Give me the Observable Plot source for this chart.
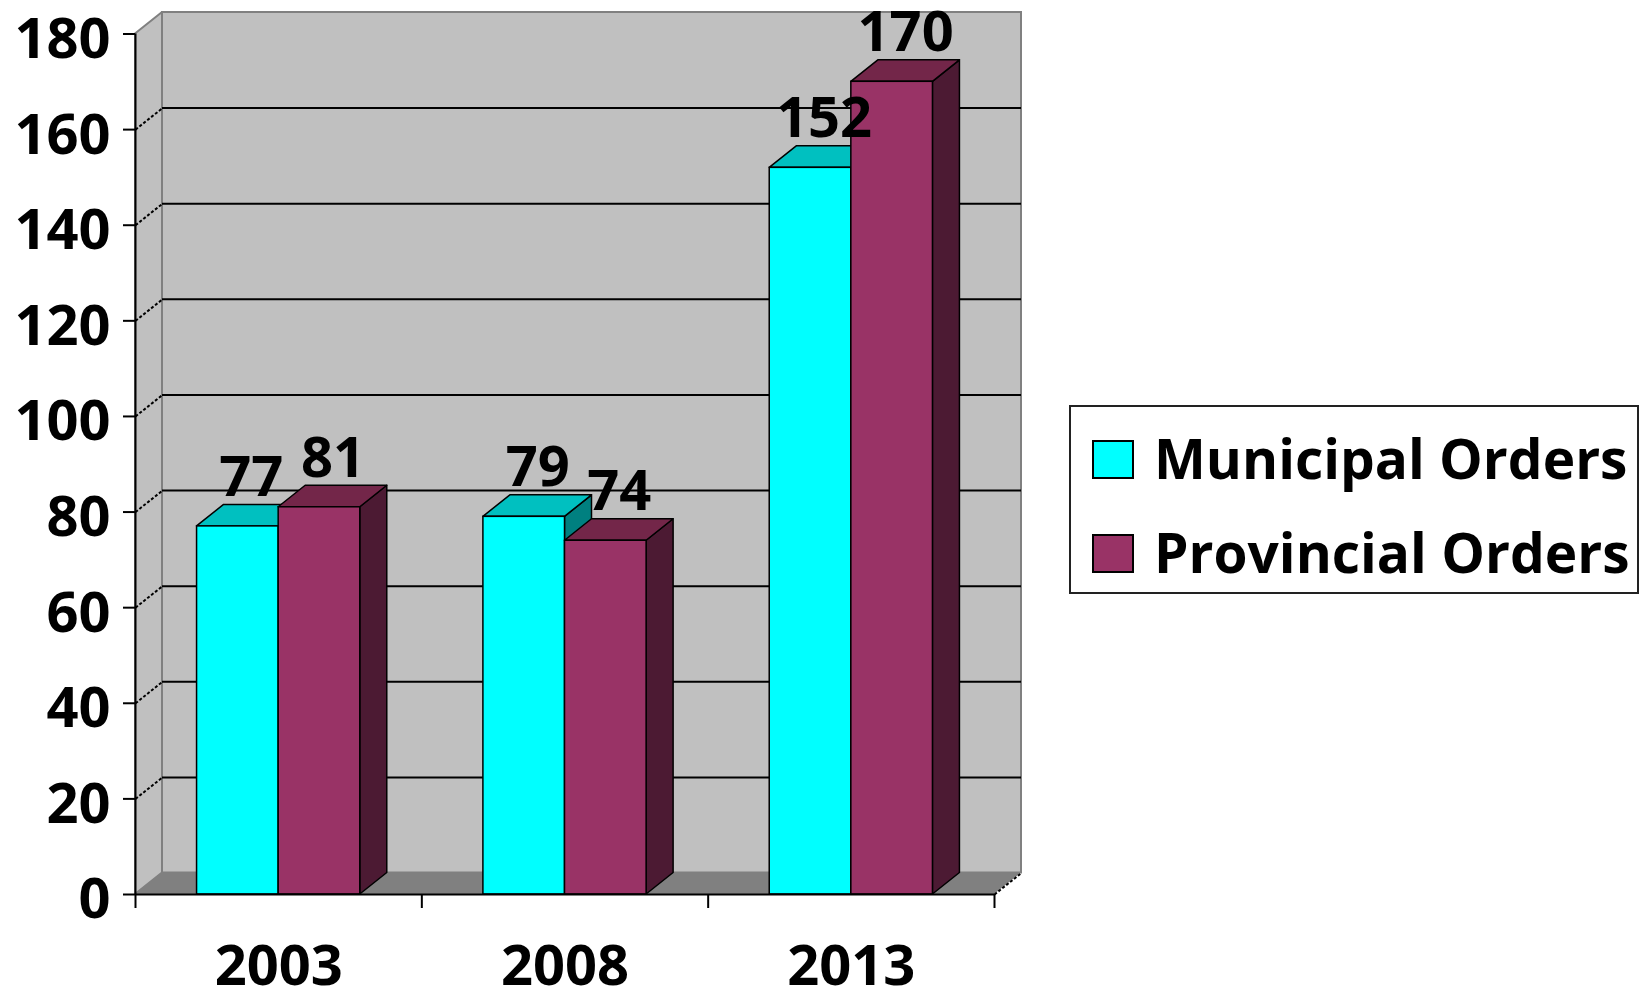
<!DOCTYPE html>
<html><head><meta charset="utf-8">
<script src="https://cdn.jsdelivr.net/npm/d3@7"></script>
<script src="https://cdn.jsdelivr.net/npm/@observablehq/plot@0.6"></script>
<style>
body{margin:0;background:#fff;font-family:"Open Sans",sans-serif;}
#wrap{position:relative;width:1641px;height:993px;overflow:hidden;}
#legend{position:absolute;left:1069px;top:405px;width:566px;height:185px;border:2px solid #222;background:#fff;}
.sw{position:absolute;left:21px;width:38px;height:35px;border:2px solid #000;}
.lt{position:absolute;left:83px;font-size:55px;font-weight:700;line-height:55px;white-space:nowrap;color:#000;}
</style></head>
<body><div id="wrap"><div id="chart"></div><div id="legend"></div></div>
<script>
// ---- data ----
const years = ["2003", "2008", "2013"];
const seriesNames = ["Municipal Orders", "Provincial Orders"];
const municipal = [77, 79, 152];
const provincial = [81, 74, 170];
const yTicks = [0, 20, 40, 60, 80, 100, 120, 140, 160, 180];

// ---- styles ----
const faces = [
  {front: "#00ffff", top: "#00c0c0", side: "#008080"},
  {front: "#993366", top: "#732649", side: "#4c1a33"}
];
const font = {fontFamily: "Open Sans", fontWeight: 700, fontSize: 56, fill: "#000"};

// ---- layout ----
const W = 1641, H = 993;
const x0 = 135, x3 = 994, yBase = 894, yTop = 33.5;
const pxX = (x3 - x0) / years.length, pxY = (yBase - yTop) / 180;
const dX = 27 / pxX, dY = 21.5 / pxY;           // 3D depth in data units
const barStart = 0.215, barW = 0.285;
const n = years.length;

const bars = [];
years.forEach((yr, i) => {
  [municipal[i], provincial[i]].forEach((v, s) => {
    const L = i + barStart + s * barW, R = L + barW;
    bars.push({id: yr + "-" + s, s, v, L, R});
  });
});
const sidePts = b => [
  {id: b.id, x: b.R, y1: 0, y2: b.v},
  {id: b.id, x: b.R + dX, y1: dY, y2: b.v + dY}
];
const topPts = b => [
  {id: b.id, x: b.L, y1: b.v, y2: b.v},
  {id: b.id, x: b.L + dX, y1: b.v, y2: b.v + dY},
  {id: b.id, x: b.R, y1: b.v, y2: b.v + dY},
  {id: b.id, x: b.R + dX, y1: b.v + dY, y2: b.v + dY}
];

const barMarks = [0, 1].flatMap(s => {
  const bs = bars.filter(b => b.s === s);
  return [
    Plot.area(bs.flatMap(sidePts), {x1: "x", y1: "y1", y2: "y2", z: "id", fill: faces[s].side, stroke: "#000", strokeWidth: 1.5}),
    Plot.area(bs.flatMap(topPts), {x1: "x", y1: "y1", y2: "y2", z: "id", fill: faces[s].top, stroke: "#000", strokeWidth: 1.5}),
    Plot.rect(bs, {x1: "L", x2: "R", y1: 0, y2: "v", fill: faces[s].front, stroke: "#000", strokeWidth: 1.5})
  ];
});

const inner = yTicks.filter(v => v > 0 && v < 180);

const chart = Plot.plot({
  width: W, height: H,
  marginLeft: x0, marginRight: W - x3, marginTop: yTop, marginBottom: H - yBase,
  x: {domain: [0, n], axis: null},
  y: {domain: [0, 180], axis: null},
  style: {fontFamily: "Open Sans", background: "#fff"},
  marks: [
    // back wall
    Plot.rect([0], {x1: dX, x2: n + dX, y1: dY, y2: 180 + dY, fill: "#c0c0c0", stroke: "#808080", strokeWidth: 2}),
    // left wall
    Plot.area([{x: 0, y1: 0, y2: 180}, {x: dX, y1: dY, y2: 180 + dY}], {x1: "x", y1: "y1", y2: "y2", fill: "#c0c0c0", stroke: "#808080", strokeWidth: 2}),
    // floor
    Plot.area([{x: 0, y1: 0, y2: 0}, {x: dX, y1: 0, y2: dY}, {x: n, y1: 0, y2: dY}, {x: n + dX, y1: dY, y2: dY}], {x1: "x", y1: "y1", y2: "y2", fill: "#808080"}),
    Plot.link([n], {x1: d => d, y1: 0, x2: d => d + dX, y2: dY, stroke: "#000", strokeWidth: 2, strokeDasharray: "3,2"}),
    // gridlines on back wall and left wall
    Plot.ruleY(inner, {y: d => d + dY, x1: dX, x2: n + dX, stroke: "#000", strokeWidth: 2}),
    Plot.link(inner, {x1: 0, y1: d => d, x2: dX, y2: d => d + dY, stroke: "#000", strokeWidth: 2, strokeDasharray: "3,2"}),
    // bars
    ...barMarks,
    // axes
    Plot.ruleX([0], {y1: 0, y2: 180, stroke: "#000", strokeWidth: 2}),
    Plot.ruleY([0], {x1: 0, x2: n, stroke: "#000", strokeWidth: 2}),
    Plot.ruleY(yTicks, {y: d => d, x1: -12 / pxX, x2: 0, stroke: "#000", strokeWidth: 2}),
    Plot.ruleX(d3.range(n + 1), {x: d => d, y1: -14 / pxY, y2: 0, stroke: "#000", strokeWidth: 2}),
    Plot.text(yTicks, {x: 0, y: d => d, text: d => String(d), dx: -25, dy: 6, textAnchor: "end", lineAnchor: "middle", ...font}),
    Plot.text(years, {x: (d, i) => i + 0.5, y: 0, text: d => d, dy: 90, lineAnchor: "bottom", ...font}),
    // value labels
    Plot.text(bars, {x: b => (b.L + b.R) / 2 + dX / 2, y: b => b.v + dY, text: b => String(b.v), dy: -9, lineAnchor: "bottom", ...font})
  ]
});
document.getElementById("chart").appendChild(chart);

// legend
const lg = document.getElementById("legend");
seriesNames.forEach((name, s) => {
  const sw = document.createElement("div");
  sw.className = "sw";
  sw.style.top = (33 + s * 94) + "px";
  sw.style.background = faces[s].front;
  lg.appendChild(sw);
  const t = document.createElement("div");
  t.className = "lt";
  t.style.top = (23 + s * 94) + "px";
  t.textContent = name;
  lg.appendChild(t);
});
</script>
</body></html>
